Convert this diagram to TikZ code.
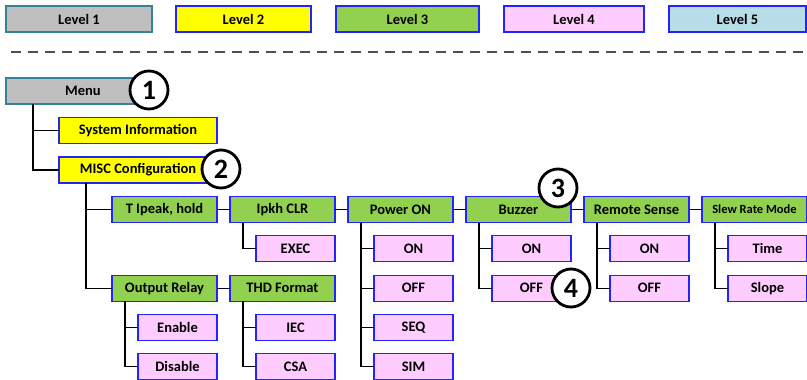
\documentclass[tikz,border=0pt]{standalone}
\usepackage{fontspec}
\setmainfont{Carlito}
\usetikzlibrary{positioning}

\definecolor{lvlgrey}{RGB}{191,191,191}
\definecolor{lvlteal}{RGB}{49,133,155}
\definecolor{lvlblue}{RGB}{35,35,255}
\definecolor{lvlyellow}{RGB}{255,255,0}
\definecolor{lvlgreen}{RGB}{146,208,80}
\definecolor{lvlpink}{RGB}{255,204,255}
\definecolor{lvlcyan}{RGB}{183,222,232}
\definecolor{dashgrey}{RGB}{80,80,80}

\begin{document}
\begin{tikzpicture}[x=1pt, y=-1pt, font=\bfseries\fontsize{14.5}{16}\selectfont,
    box/.style={draw=lvlblue, line width=1.2pt, minimum height=26pt, inner sep=0pt, outer sep=0pt, anchor=west},
    lone/.style={box, draw=lvlteal, line width=2.2pt, fill=lvlgrey},
    ltwo/.style={box, fill=lvlyellow, minimum width=158pt},
    lthree/.style={box, fill=lvlgreen, minimum width=105pt},
    lfour/.style={box, fill=lvlpink, minimum width=79pt},
    lfive/.style={box, fill=lvlcyan},
    badge/.style={circle, draw, line width=2.8pt, fill=white, minimum size=38pt, inner sep=0pt,
      font=\bfseries\fontsize{28}{30}\selectfont},
    link/.style={line width=1.1pt}]
  \useasboundingbox (0,0) rectangle (807,380);

  % legend
  \node[lone, minimum width=146pt] (leg1) at (6,19) {Level 1};
  \node[box, fill=lvlyellow, minimum width=135pt] (leg2) at (176,19) {Level 2};
  \node[box, fill=lvlgreen, minimum width=143pt] (leg3) at (336,19) {Level 3};
  \node[box, fill=lvlpink, minimum width=140pt] (leg4) at (504,19) {Level 4};
  \node[lfive, minimum width=137pt] (leg5) at (669,19) {Level 5};
  \coordinate (dashl) at (11,52);
  \coordinate (dashr) at (807,52);
  \draw[dashgrey, line width=1.8pt, dash pattern=on 10pt off 7pt] (dashl) -- (dashr);

  % levels 1 and 2
  \node[lone, minimum width=154pt] (menu) at (6,91) {Menu};
  \node[ltwo] (sysinfo) at (59,130.5) {System Information};
  \node[ltwo] (misc) at (59,170) {MISC Configuration};

  % level 3
  \node[lthree] (tpeak) at (112,209.5) {T Ipeak, hold};
  \node[lthree] (ipkh) [right=13pt of tpeak] {Ipkh CLR};
  \node[lthree] (power) [right=13pt of ipkh] {Power ON};
  \node[lthree] (buzzer) [right=13pt of power] {Buzzer};
  \node[lthree] (remote) [right=13pt of buzzer] {Remote Sense};
  \node[lthree, font=\bfseries\fontsize{12.5}{14}\selectfont] (slew) [right=13pt of remote] {Slew Rate Mode};
  \node[lthree] (relay) at (112,288.1) {Output Relay};
  \node[lthree] (thd) [right=13pt of relay] {THD Format};

  % level 4
  \node[lfour, anchor=north west] (exec) at ([xshift=26pt, yshift=-13.3pt]ipkh.south west) {EXEC};
  \node[lfour, anchor=north west] (pon1) at ([xshift=26pt, yshift=-13.3pt]power.south west) {ON};
  \node[lfour] (pon2) [below=13.3pt of pon1] {OFF};
  \node[lfour] (pon3) [below=13.3pt of pon2] {SEQ};
  \node[lfour] (pon4) [below=13.3pt of pon3] {SIM};
  \node[lfour, anchor=north west] (bz1) at ([xshift=26pt, yshift=-13.3pt]buzzer.south west) {ON};
  \node[lfour] (bz2) [below=13.3pt of bz1] {OFF};
  \node[lfour, anchor=north west] (rs1) at ([xshift=26pt, yshift=-13.3pt]remote.south west) {ON};
  \node[lfour] (rs2) [below=13.3pt of rs1] {OFF};
  \node[lfour, anchor=north west] (sl1) at ([xshift=26pt, yshift=-13.3pt]slew.south west) {Time};
  \node[lfour] (sl2) [below=13.3pt of sl1] {Slope};
  \node[lfour, anchor=north west] (rl1) at ([xshift=26pt, yshift=-13.3pt]relay.south west) {Enable};
  \node[lfour] (rl2) [below=13.3pt of rl1] {Disable};
  \node[lfour, anchor=north west] (thd1) at ([xshift=26pt, yshift=-13.3pt]thd.south west) {IEC};
  \node[lfour] (thd2) [below=13.3pt of thd1] {CSA};

  % tree lines
  \draw[link] ([xshift=27pt]menu.south west) |- (sysinfo.west);
  \draw[link] ([xshift=27pt]menu.south west) |- (misc.west);
  \draw[link] ([xshift=27pt]misc.south west) |- (tpeak.west);
  \draw[link] ([xshift=27pt]misc.south west) |- (relay.west);
  \draw[link] (tpeak) -- (ipkh);
  \draw[link] (ipkh) -- (power);
  \draw[link] (power) -- (buzzer);
  \draw[link] (buzzer) -- (remote);
  \draw[link] (remote) -- (slew);
  \draw[link] (relay) -- (thd);
  \draw[link] ([xshift=13pt]ipkh.south west) |- (exec.west);
  \draw[link] ([xshift=13pt]power.south west) |- (pon1.west);
  \draw[link] ([xshift=13pt]power.south west) |- (pon2.west);
  \draw[link] ([xshift=13pt]power.south west) |- (pon3.west);
  \draw[link] ([xshift=13pt]power.south west) |- (pon4.west);
  \draw[link] ([xshift=13pt]buzzer.south west) |- (bz1.west);
  \draw[link] ([xshift=13pt]buzzer.south west) |- (bz2.west);
  \draw[link] ([xshift=13pt]remote.south west) |- (rs1.west);
  \draw[link] ([xshift=13pt]remote.south west) |- (rs2.west);
  \draw[link] ([xshift=13pt]slew.south west) |- (sl1.west);
  \draw[link] ([xshift=13pt]slew.south west) |- (sl2.west);
  \draw[link] ([xshift=13pt]relay.south west) |- (rl1.west);
  \draw[link] ([xshift=13pt]relay.south west) |- (rl2.west);
  \draw[link] ([xshift=13pt]thd.south west) |- (thd1.west);
  \draw[link] ([xshift=13pt]thd.south west) |- (thd2.west);

  % numbered badges
  \node[badge] (b1) at (149,90) {1};
  \node[badge] (b2) at (221,169) {2};
  \node[badge] (b3) at (558,188) {3};
  \node[badge] (b4) at (571,288) {4};
\end{tikzpicture}
\end{document}
